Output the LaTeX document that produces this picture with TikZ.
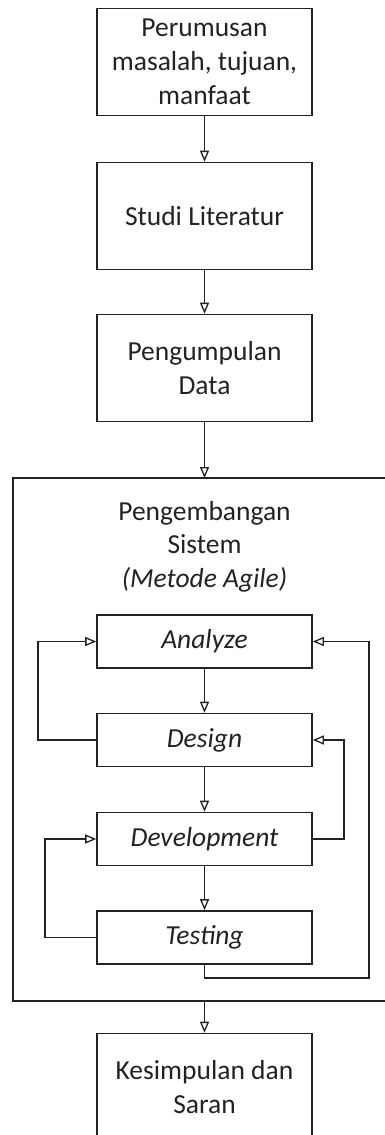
\documentclass[tikz,border=0pt]{standalone}
\usepackage{fontspec}
\setmainfont{Carlito}
\usetikzlibrary{arrows.meta}
\definecolor{ink}{HTML}{222222}
\tikzset{
  stepbox/.style={draw=ink, line width=1.6pt, minimum width=215pt, inner sep=2pt,
    align=center, text=ink, font=\fontsize{27.5}{34}\selectfont},
  bigbox/.style={stepbox, minimum height=107pt},
  smallbox/.style={stepbox, minimum height=53pt, font=\fontsize{27.5}{34}\selectfont\itshape},
  link/.style={draw=ink, line width=1.6pt, -{Triangle[open, length=11pt, width=9pt, line width=1.3pt]}},
  plain/.style={draw=ink, line width=1.6pt}
}
\begin{document}
\begin{tikzpicture}[x=1pt,y=-1pt]
\useasboundingbox (0,0) rectangle (384,1135);
\node[bigbox] (b1) at (204.5,62) {Perumusan\\masalah, tujuan,\\manfaat};
\node[bigbox] (b2) at (204.5,216) {Studi Literatur};
\node[bigbox] (b3) at (204.5,368) {Pengumpulan\\Data};
\node[draw=ink, line width=1.6pt, minimum width=402pt, minimum height=523pt, inner sep=0pt] (outer) at (214,739.5) {};
\coordinate (otop) at (204.5,478);
\coordinate (obot) at (204.5,1001);
\node[align=center, text=ink, font=\fontsize{27.5}{33.5}\selectfont] (title) at (204.5,546.5) {Pengembangan\\Sistem\\\textit{(Metode Agile)}};
\node[smallbox] (an) at (204.5,641.5) {Analyze};
\node[smallbox] (de) at (204.5,740) {Design};
\node[smallbox] (dv) at (204.5,839) {Development};
\node[smallbox] (te) at (204.5,937.5) {Testing};
\node[bigbox] (ks) at (204.5,1087) {Kesimpulan dan\\Saran};
\coordinate (c1) at (38,740);
\coordinate (c2) at (38,641.5);
\coordinate (c3) at (45,937.5);
\coordinate (c4) at (45,839);
\coordinate (c5) at (344,839);
\coordinate (c6) at (344,740);
\coordinate (c7) at (204.5,978);
\coordinate (c8) at (369,978);
\coordinate (c9) at (369,641.5);
\draw[link] (b1) -- (b2);
\draw[link] (b2) -- (b3);
\draw[link] (b3) -- (otop);
\draw[link] (an) -- (de);
\draw[link] (de) -- (dv);
\draw[link] (dv) -- (te);
\draw[link] (obot) -- (ks);
\draw[link] (de.west) -- (c1) -- (c2) -- (an.west);
\draw[link] (te.west) -- (c3) -- (c4) -- (dv.west);
\draw[link] (dv.east) -- (c5) -- (c6) -- (de.east);
\draw[link] (te.south) -- (c7) -- (c8) -- (c9) -- (an.east);
\end{tikzpicture}
\end{document}
